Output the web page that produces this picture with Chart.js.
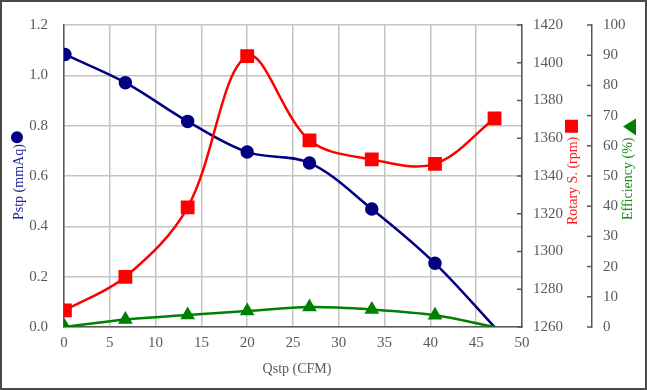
<!DOCTYPE html>
<html>
<head>
<meta charset="utf-8">
<script src="https://cdn.jsdelivr.net/npm/chart.js@4"></script>
<style>
  html, body { margin: 0; padding: 0; background: #fff; }
  #wrap { width: 647px; height: 390px; position: relative; box-shadow: inset 0 0 0 2px #4a4a4a; }
</style>
</head>
<body>
<div id="wrap"><canvas id="fanChart"></canvas></div>
<script>
// flow rate (CFM) for every measuring point
const flow = [0.1, 6.7, 13.5, 20.0, 26.8, 33.6, 40.5, 47.0];
const pressure = [1.083, 0.971, 0.817, 0.695, 0.652, 0.469, 0.253, 0.0];      // mmAq
const rotarySpeed = [1268.8, 1286.6, 1323.4, 1403.5, 1358.9, 1348.8, 1346.4, 1370.5]; // rpm
const efficiency = [0.0, 2.5, 4.0, 5.3, 6.6, 5.8, 3.9, 0.0];                   // %

const serif = "'Liberation Serif', 'Times New Roman', serif";
const tickColor = '#595959';
const tickFont = { family: serif, size: 15 };

const toPoints = (ys) => flow.map((x, i) => ({ x: x, y: ys[i] }));
// last point of pressure / efficiency has no marker
const hideLast = (n, r) => flow.map((_, i) => i === n - 1 ? 0 : r);

// inward tick marks on the right axes + rotated axis titles with their symbols
const sideDecor = {
  id: 'sideDecor',
  afterDraw(chart) {
    const ctx = chart.ctx;
    const area = chart.chartArea;
    ctx.save();
    ctx.strokeStyle = tickColor;
    ctx.lineWidth = 1.5;
    ['yRpm', 'yEff'].forEach(id => {
      const s = chart.scales[id];
      s.ticks.forEach((t, i) => {
        const y = s.getPixelForTick(i);
        ctx.beginPath();
        ctx.moveTo(s.left - 5, y);
        ctx.lineTo(s.left, y);
        ctx.stroke();
      });
    });

    ctx.font = '14px ' + serif;
    ctx.textBaseline = 'middle';
    ctx.textAlign = 'left';

    function vTitle(text, x, yBottom, color) {
      ctx.save();
      ctx.translate(x, yBottom);
      ctx.rotate(-Math.PI / 2);
      ctx.fillStyle = color;
      ctx.fillText(text, 0, 0);
      ctx.restore();
      return yBottom - ctx.measureText(text).width;
    }

    // left title
    let top = vTitle('Pstp (mmAq)', 19, area.bottom - 107, '#22229a');
    ctx.fillStyle = '#000080';
    ctx.beginPath();
    ctx.arc(17, top - 7, 6, 0, Math.PI * 2);
    ctx.fill();

    // rotary speed title
    const sR = chart.scales.yRpm;
    top = vTitle('Rotary S. (rpm)', sR.left + 51, area.bottom - 102, '#ff1a1a');
    ctx.fillStyle = '#ff0000';
    ctx.fillRect(sR.left + 43, top - 17, 13, 13);

    // efficiency title
    const sE = chart.scales.yEff;
    top = vTitle('Efficiency (%)', sE.left + 36, area.bottom - 107, '#1a8f1a');
    ctx.fillStyle = '#008000';
    ctx.beginPath();
    ctx.moveTo(sE.left + 31, top - 11);
    ctx.lineTo(sE.left + 44, top - 19);
    ctx.lineTo(sE.left + 44, top - 2);
    ctx.closePath();
    ctx.fill();

    // x title
    ctx.textAlign = 'center';
    ctx.fillStyle = tickColor;
    ctx.fillText('Qstp (CFM)', (area.left + area.right) / 2 + 4, area.bottom + 42);
    ctx.restore();
  }
};

new Chart(document.getElementById('fanChart'), {
  type: 'line',
  data: {
    datasets: [
      {
        label: 'Pstp',
        data: toPoints(pressure),
        yAxisID: 'y',
        borderColor: '#000080',
        backgroundColor: '#000080',
        borderWidth: 2.5,
        pointStyle: 'circle',
        pointRadius: hideLast(flow.length, 5.5),
        tension: 0.35,
        order: 3
      },
      {
        label: 'Rotary S.',
        data: toPoints(rotarySpeed),
        yAxisID: 'yRpm',
        borderColor: '#ff0000',
        backgroundColor: '#ff0000',
        borderWidth: 2.5,
        pointStyle: 'rect',
        pointRadius: 8,
        tension: 0.35,
        order: 1
      },
      {
        label: 'Efficiency',
        data: toPoints(efficiency),
        yAxisID: 'yEff',
        borderColor: '#008000',
        backgroundColor: '#008000',
        borderWidth: 2.5,
        pointStyle: 'triangle',
        pointRadius: hideLast(flow.length, 6),
        tension: 0.35,
        order: 2
      }
    ]
  },
  options: {
    responsive: true,
    maintainAspectRatio: false,
    animation: false,
    layout: { padding: { top: 19, left: 0, right: 0, bottom: 0 } },
    plugins: {
      legend: { display: false },
      tooltip: { enabled: false }
    },
    elements: { point: { borderWidth: 0, hoverRadius: 0 } },
    scales: {
      x: {
        type: 'linear',
        min: 0,
        max: 50,
        ticks: { stepSize: 5, color: tickColor, font: tickFont, padding: 7 },
        grid: { color: '#c4c4c4', lineWidth: 1.5, drawTicks: false },
        border: { color: tickColor, width: 1.5 },
        afterFit: s => { s.height = 63; }
      },
      y: {
        position: 'left',
        min: 0,
        max: 1.2,
        ticks: {
          stepSize: 0.2,
          color: tickColor,
          font: tickFont,
          padding: 16,
          callback: v => v.toFixed(1)
        },
        grid: { color: '#c4c4c4', lineWidth: 1.5, drawTicks: false },
        border: { color: tickColor, width: 1.5 },
        afterFit: s => { s.width = 64; }
      },
      yRpm: {
        position: 'right',
        min: 1260,
        max: 1420,
        ticks: { stepSize: 20, color: tickColor, font: tickFont, padding: 11, callback: v => String(v) },
        grid: { drawOnChartArea: false, drawTicks: false },
        border: { color: tickColor, width: 1.5 },
        afterFit: s => { s.width = 70; }
      },
      yEff: {
        position: 'right',
        min: 0,
        max: 100,
        ticks: { stepSize: 10, color: tickColor, font: tickFont, padding: 11, callback: v => String(v) },
        grid: { drawOnChartArea: false, drawTicks: false },
        border: { color: tickColor, width: 1.5 },
        afterFit: s => { s.width = 55; }
      }
    }
  },
  plugins: [sideDecor]
});
</script>
</body>
</html>
